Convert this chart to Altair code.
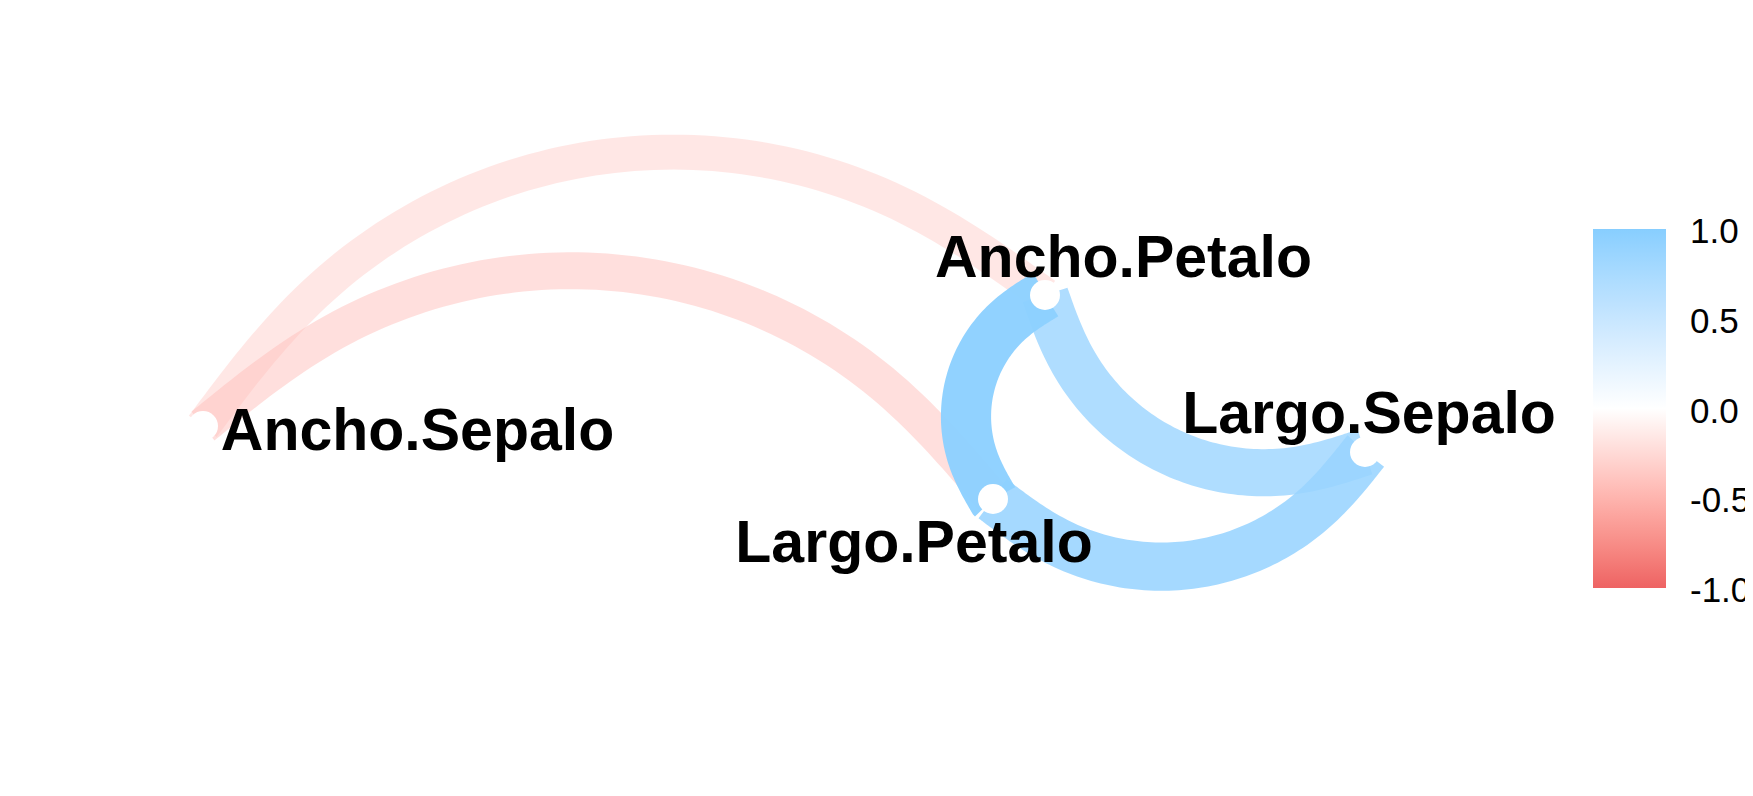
import altair as alt
import numpy as np
import pandas as pd

# Nodes (layout units) and their label anchors
node_names = ["Largo.Sepalo", "Ancho.Sepalo", "Largo.Petalo", "Ancho.Petalo"]
node_x = [13.57, 1.95, 9.85, 10.37]
node_y = [3.26, 3.52, 2.79, 4.83]
label_x = [13.61, 4.095, 9.06, 11.155]
label_y = [3.45, 3.28, 2.16, 5.01]

# Correlation edges (|r| >= 0.3)
edge_from = ["Largo.Sepalo", "Largo.Sepalo", "Ancho.Sepalo", "Ancho.Sepalo", "Largo.Petalo"]
edge_to = ["Largo.Petalo", "Ancho.Petalo", "Largo.Petalo", "Ancho.Petalo", "Ancho.Petalo"]
edge_r = [0.87, 0.82, -0.43, -0.37, 0.96]

legend_values = [1.0, 0.5, 0.0, -0.5, -1.0]
legend_labels = ["1.0", "0.5", "0.0", "-0.5", "-1.0"]
tick_values = [1.0, 0.5, -0.5, -1.0]
curvature = 0.5
ncp = 5

pos = {n: (x, y) for n, x, y in zip(node_names, node_x, node_y)}


def curve_points(p0, p1, c, ncp=5, per_seg=16):
    """geom_curve-like path: control points on a circular arc, smoothed by a cubic B-spline."""
    p0 = np.array(p0, dtype=float)
    p1 = np.array(p1, dtype=float)
    d = p1 - p0
    L = float(np.hypot(d[0], d[1]))
    h = L / 2
    m = (p0 + p1) / 2
    left = np.array([-d[1], d[0]]) / L
    s = c * h
    R = (h * h + s * s) / (2 * s)
    center = m - (R - s) * left
    v = p0 - center
    a0 = np.arctan2(v[1], v[0])
    theta = 4 * np.arctan(c)
    ang = a0 - theta * np.arange(1, ncp + 1) / (ncp + 1)
    ctrl = [center + R * np.array([np.cos(a), np.sin(a)]) for a in ang]
    Q = [p0, p0, p0] + ctrl + [p1, p1, p1]
    pts = []
    for i in range(len(Q) - 3):
        for t in np.linspace(0, 1, per_seg, endpoint=(i == len(Q) - 4)):
            b0 = (1 - t) ** 3
            b1 = 3 * t ** 3 - 6 * t ** 2 + 4
            b2 = -3 * t ** 3 + 3 * t ** 2 + 3 * t + 1
            b3 = t ** 3
            pts.append((b0 * Q[i] + b1 * Q[i + 1] + b2 * Q[i + 2] + b3 * Q[i + 3]) / 6)
    pts = np.array(pts)
    return pts[:, 0], pts[:, 1]


order_idx = sorted(range(len(edge_r)), key=lambda i: abs(edge_r[i]))
rows = []
for rank, i in enumerate(order_idx):
    xs, ys = curve_points(pos[edge_from[i]], pos[edge_to[i]], curvature, ncp)
    for t, (xx, yy) in enumerate(zip(xs, ys)):
        rows.append({"edge": f"e{rank}", "t": t, "x": xx, "y": yy,
                     "r": edge_r[i], "proximity": abs(edge_r[i])})
edges_df = pd.DataFrame(rows)

nodes_df = pd.DataFrame({"name": node_names, "x": node_x, "y": node_y})
labels_df = pd.DataFrame({"name": node_names, "x": label_x, "y": label_y})
leg_df = pd.DataFrame({"v": legend_values, "lab": legend_labels})
tick_df = pd.DataFrame({"v": tick_values})

xscale = alt.Scale(domain=[0, 17.37], nice=False, zero=False)
yscale = alt.Scale(domain=[0, 7.70], nice=False, zero=False)
legscale = alt.Scale(domain=[-1, 1], range=[580, 221], nice=False, zero=False)

lines = alt.Chart(edges_df).mark_line(strokeCap="butt", interpolate="linear").encode(
    x=alt.X("x:Q", scale=xscale, axis=None),
    y=alt.Y("y:Q", scale=yscale, axis=None),
    detail="edge:N",
    order=alt.Order("t:Q"),
    color=alt.Color(
        "r:Q",
        title=None,
        scale=alt.Scale(domain=[-1, 0, 1], range=["#EE6363", "#FFFFFF", "#87CEFF"], interpolate="lab"),
        legend=alt.Legend(
            orient="none", legendX=1585, legendY=221, direction="vertical",
            gradientLength=359, gradientThickness=73, gradientStrokeWidth=0,
            labelOpacity=0, labelFontSize=1, values=[-1, 1], padding=0, zindex=0,
        ),
    ),
    opacity=alt.Opacity("proximity:Q", scale=alt.Scale(domain=[0, 1], range=[0.1, 1]), legend=None),
    strokeWidth=alt.StrokeWidth("proximity:Q", scale=alt.Scale(type="sqrt", domain=[0, 1], range=[10, 51]), legend=None),
)

points = alt.Chart(nodes_df).mark_point(filled=True, shape="circle", size=900, color="white", opacity=1, strokeWidth=0).encode(
    x=alt.X("x:Q", scale=xscale, axis=None),
    y=alt.Y("y:Q", scale=yscale, axis=None),
)

texts = alt.Chart(labels_df).mark_text(
    font="Liberation Sans", fontWeight="bold", fontSize=59, align="center", baseline="alphabetic", color="black"
).encode(
    x=alt.X("x:Q", scale=xscale, axis=None),
    y=alt.Y("y:Q", scale=yscale, axis=None),
    text="name:N",
)

leg_labels = alt.Chart(leg_df).mark_text(
    font="Liberation Sans", fontSize=35, align="left", baseline="middle", color="black", dy=3
).encode(
    x=alt.value(1682),
    y=alt.Y("v:Q", scale=legscale, axis=None),
    text="lab:N",
)

ticks_left = alt.Chart(tick_df).mark_rule(color="white", strokeWidth=1.5).encode(
    x=alt.value(1585), x2=alt.value(1600),
    y=alt.Y("v:Q", scale=legscale, axis=None),
)
ticks_right = alt.Chart(tick_df).mark_rule(color="white", strokeWidth=1.5).encode(
    x=alt.value(1643), x2=alt.value(1658),
    y=alt.Y("v:Q", scale=legscale, axis=None),
)

chart = alt.layer(lines, points, texts, ticks_left, ticks_right, leg_labels).resolve_scale(
    y="independent"
).properties(
    width=1737, height=770, padding=0, autosize="none", background="white"
).configure_view(stroke=None)

chart.save("out.html", embed_options={"renderer": "svg", "actions": False})
